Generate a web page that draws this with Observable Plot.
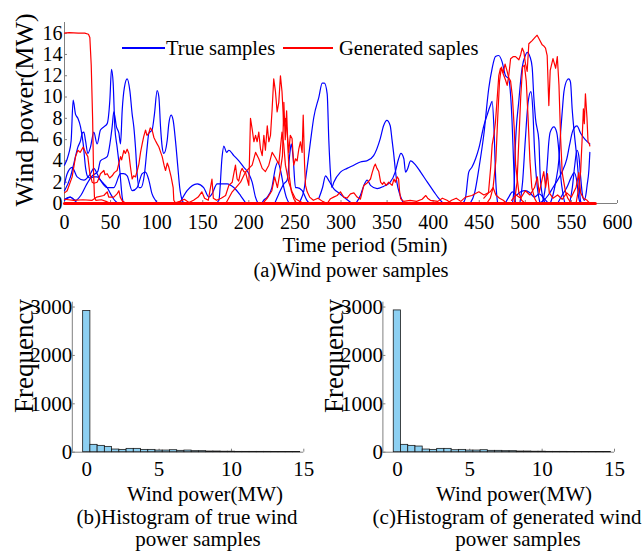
<!DOCTYPE html>
<html><head><meta charset="utf-8">
<script src="https://cdn.jsdelivr.net/npm/d3@7"></script>
<script src="https://cdn.jsdelivr.net/npm/@observablehq/plot@0.6"></script>
<style>
body{margin:0;background:#fff;}
#c{position:relative;width:644px;height:559px;font-family:"Liberation Serif","Times New Roman",serif;color:#000;overflow:hidden;background:#fff;}
.t{position:absolute;white-space:nowrap;line-height:1;transform:translate(-50%,-50%);}
.r{position:absolute;white-space:nowrap;line-height:1;transform:translate(-50%,-50%) rotate(-90deg);}
.p{position:absolute;}
.p svg,.p{overflow:visible;}
.p svg text{font-family:"Liberation Serif","Times New Roman",serif;}
</style></head><body><div id="c"></div>
<script>
// ---------- tick labels ----------
const timeTicks = [0,50,100,150,200,250,300,350,400,450,500,550,600];
const powerTicks = [0,2,4,6,8,10,12,14,16];
const histXTicks = [0,5,10,15];
const histYTicks = [0,1000,2000,3000];

// ---------- true samples (blue) : [time, MW] ----------
const true1 = [[0,3.6],[4.7,4.7],[7.2,5.9],[9.4,9.7],[11.9,8.4],[14.5,8.0],[17.4,7.2],[20.3,5.6],[22.8,3.4],[25.3,2.5],[28,2.4],[31.8,2.5],[35.4,2.5],[39,2.2],[42.7,1.85],[46.3,1.5],[50,0.9],[53.5,0.4],[57,0.1],[60,0]];
const true2 = [[0,1.2],[6.5,2.5],[10,3.7],[14.5,5.3],[17.4,5.9],[19.2,6.6],[21,6.7],[22.8,5.9],[25.3,4.7],[28.2,5.3],[31.8,6.7],[35.4,5.6],[39,6.9],[42.7,7.2],[46.3,7.5],[49.2,9.7],[51,12.6],[52.8,11.3],[54.6,7.2],[57.1,5.3],[60,3.1],[62.6,0.6],[64,0]];
const true3 = [[0,0.4],[6,0.6],[12,0.3],[18,0.8],[24,1.8],[30,2.6],[36,3.0],[39,4],[46.3,4.4],[51.7,7.2],[53.5,8.6],[56.4,7.2],[59,6.6],[60.8,5.6],[62.6,8.75],[65,10.9],[68,11.7],[70.9,10.6],[73.4,8.4],[75.2,7.2],[77,5.3],[78.8,2.8],[80.7,1.5],[83,1.5],[86.8,2.8],[89.7,5.3],[91.5,6.6],[95,6.9],[97.6,8.4],[100.5,10.6],[102.4,10],[104.2,7.2],[106,5.3],[107.8,4.7],[111.4,5.9],[113.2,7.5],[115.7,8.3],[117.9,7.8],[120.4,5.9],[123,3.4],[125,1.5],[127.7,0.3],[130,0]];
const true4 = [[0,1.8],[2.9,2.8],[8.3,3.4],[13.7,2.5],[21,2.2],[28.2,2.8],[31.8,3.3],[35.4,2.8],[39,2.2],[46.3,1.5],[53.5,1.5],[60.8,2.8],[64,2.8],[68,2.6],[73.4,1.2],[78.8,1.5],[84.3,2.8],[87.9,2.95],[91.5,2.2],[95,0.9],[98.7,0.3],[101,0]];
const true5 = [[0,0.3],[6.5,0.6],[12,0.2],[15,0]];
const true6 = [[125,0],[133,1.2],[144,1.85],[151,1.5],[156.6,0.6],[160,0.9],[165.6,1.85],[176.5,1.85],[183.7,1.5],[191,0.75],[197,0]];
const true7 = [[164,0],[167.5,0.3],[171,4.4],[172.9,5.4],[175.8,4.8],[178.3,5.0],[183.7,4.5],[189.2,4.0],[194.6,3.4],[200,2.8],[203.6,2.0],[207.2,0.6],[210,0]];
const true8 = [[214,0],[216,0.3],[220,0.6],[225,1.5],[229,3.4],[231.5,3.9],[234.4,3.1],[238,1.5],[241,0.5],[244,0]];
const true9 = [[228,0],[232.5,0.9],[238,1.85],[241.6,2.2],[244.5,4.7],[246,5.6],[248,4.4],[250.6,1.5],[252.4,1.5],[257.9,1.2],[263,0.3],[266,0]];
const true10 = [[254,0],[256,0.3],[259.7,1.2],[263.3,3.4],[267,5.9],[270.5,8.1],[276,10],[279.6,11.3],[282,11.3],[285,10.3],[286.8,5.9],[288.6,2.8],[290,1.5],[292.2,2],[299.4,2.95],[306.6,3.3],[313.8,3.6],[321,3.9],[328,4.0],[335.4,4.5],[342.6,6.1],[346.2,7.3],[349.8,7.8],[353.4,7.3],[355.2,6.1],[357,4.8],[358.8,3.3],[360.6,2],[364.2,0.75],[368,0]];
const true11 = [[276,0.5],[280,1.5],[283.2,2.6],[286.8,2.15],[292,1.4],[299,0.9],[306,0.4],[312,0]];
const true12 = [[316,0],[321,0.75],[324.8,1.7],[328.4,2.2],[332,1.7],[339.2,1.4],[346,1.6],[353.4,2],[358.8,2.95],[362.5,4.2],[365,4.7],[368.2,4.2],[370,2.95],[372,3.2],[375.5,4.0],[381,3.6],[386.4,2.95],[393.7,2],[400.9,1.1],[406.3,0.45],[411,0]];
const true13 = [[432,0],[435,0.5],[438.6,2.95],[442,3.4],[446,4.2],[449.6,5.2],[455,7.3],[458.5,8.3],[462,9.2],[464,9.6],[466,7],[468,2],[470,0]];
const true14 = [[440,0],[445,1],[450,3.5],[455,6.5],[460.3,10.8],[464,12.7],[467.6,13.8],[471.2,13.9],[474.8,13.3],[478.5,12.0],[482,11.7],[484,10.2],[485.6,7.7],[487.5,3.3],[489.4,0.1],[491,0]];
const true15 = [[486,0],[488,2],[489,5],[493,9.7],[496.6,12.8],[500,13.9],[502,14.2],[505,13.8],[507.4,12.8],[509.2,10],[511,8],[514.7,5.9],[516,2.8],[518,1],[520,0.3],[522,0]];
const true16 = [[494,0],[497,2],[500,6],[503,9.5],[506,10.5],[508,9],[510,5],[513,1.5],[516,0]];
const true17 = [[518,0],[521.9,1.7],[523.7,3.6],[525.5,5.8],[527,6.7],[531,7.2],[534,6.7],[536.5,4.8],[538.3,2.6],[541,0.8],[543,0]];
const true18 = [[527,0],[530,0.8],[532.9,2],[536.5,4.2],[538.3,6.7],[540,8.6],[541.9,10.5],[545.4,11.6],[547.2,11.7],[549,11.4],[550.8,8.9],[553,6.7],[556,4.2],[558,2.2],[560,0.2],[562,0]];
const true19 = [[515,0],[520,0.3],[525,0.8],[530,1.5],[535,2.2],[540,3],[545,4.2],[548,5.5],[551,6.7],[553,7.1],[556,7.3],[560,6.6],[565,6],[570,5.6]];
const true20 = [[548,0],[551,1.5],[553.5,3.5],[556,5.0],[558,4.5],[560,2.5],[562,0.8],[564,0.3],[566,1],[567,1.7],[569,3.2],[570,4.8]];
const true21 = [[478,0],[482,0.6],[486,1.1],[490,0.8],[495,1.1],[500,1.2],[505,1.0],[510,0.6],[515,0.9],[520,0.5],[525,0]];
const true22 = [[535,0],[540,0.8],[545,1.5],[550,2.5],[553,2.9],[556,2],[558,0.5],[560,0]];
const trueSeries = [true1,true2,true3,true4,true5,true6,true7,true8,true9,true10,true11,true12,true13,true14,true15,true16,true17,true18,true19,true20,true21,true22];

// ---------- generated samples (red) : [time, MW] ----------
const gen0 = [[0,0],[576,0]];
const gen1 = [[0,16.0],[5,16.05],[15,16.0],[22,16.0],[26,15.9],[27.5,15.6],[29,13],[30.5,8],[31.5,3],[32.5,0.6],[34,0.3],[40,0.35],[45,0.2],[50,0]];
const gen2 = [[0,1.0],[2.9,1.2],[8.3,2.5],[12,4.4],[14.5,5.0],[17,4.8],[20.3,5.3],[22.8,4.8],[25.3,4.4],[27.5,2.8],[30,2.0],[32,1.9],[35.4,2],[37,2.3],[39,2.8],[42.7,3.1],[44,2.7],[46.3,2.8],[49,2.4],[51.7,2.6],[54,2.9],[57.1,3.1],[59,3.8],[60.8,4.4],[62,4.1],[64.4,5.0],[66,4.7],[68,5.1],[69.8,4.7],[71.6,3.4],[73.4,2.3],[75,2.6],[77,2.5],[79,3.1],[80.7,3.7],[82.5,4.8],[84.3,5.6],[86,6.3],[87.9,6.9],[89.5,6.4],[91.5,6.6],[93,7.1],[95.1,6.9],[97,6.2],[98.7,5.9],[100.5,5.6],[102.4,5.3],[104,4.9],[106,4.4],[108,3.6],[109.6,3.1],[111.5,3.8],[113.2,3.4],[115.7,2.5],[117.9,1.5],[118.6,0.3],[120,0.1],[124,0]];
const gen3 = [[0,0.4],[10,0.3],[20,0.35],[30,0.3],[35,0.6],[42.7,0.75],[46.3,1.1],[48,0.6],[53.5,0.6],[57,0.9],[59,1.2],[60.5,0.6],[63,0.2],[68,0]];
const gen4 = [[118,0],[125,0.2],[130,0.4],[135,0.1],[140,0.3],[145,0.6],[149,1.1],[152,0.5],[156,0.3],[160,2.3],[161.5,0.5],[165,0.3],[170,0.5],[174.8,0.75],[178.3,1.7],[182,2],[183.7,2.8],[185.5,3.6],[187.3,2.3],[189,2.1],[191,2.95],[192.7,3.3],[194.5,3.0],[196.4,2.95],[198.2,2.3],[200,1.7],[201.8,8.0],[203.6,7.0],[205.5,5.8],[207.3,6.4],[209,5.8],[210.8,6.7],[212.7,5.1],[214.5,4.5],[216.3,6.4],[218,5.0],[220,7.3],[221.7,5.8],[223.5,6.4],[225.3,8.9],[227,11.7],[228.9,10.5],[230.7,8.6],[232.5,9.5],[234.3,12.0],[236,10.5],[237.9,7.3],[239.7,8.0],[241.5,6.7],[243.3,4.8],[245,6.4],[246.9,6.1],[248.7,3.6],[250.6,4.2],[252.4,4.0],[254.2,5.1],[256,5.8],[257.8,4.8],[259,8.3],[260.5,3.6],[261.5,1.7],[263.3,1.1],[266,0.6],[270,0.3],[275,0.5],[280,0.2],[285,0]];
const gen5 = [[175,0],[182,1.1],[186,1.5],[191,2.0],[196.4,2.95],[200,3.3],[203.6,3.6],[207.3,4.8],[210.8,4.2],[214.5,3.3],[218,3.0],[221.7,3.6],[225.3,4.8],[228.9,4.3],[232.5,3.7],[236,6.7],[237.9,5.5],[239.7,3.6],[243.3,2],[246.9,1.1],[250.6,0.45],[255,0.2],[260,0]];
const gen6 = [[215,0],[220,0.5],[225,1.2],[228,2.5],[231,1.5],[234,3.0],[236.5,4.5],[238,9.5],[239.5,6],[241,8.7],[242.5,5],[244,2.5],[246,1.2],[249,0.4],[252,0]];
const gen7 = [[285,0],[288.6,0.45],[292,0.6],[295.8,0.75],[299.4,1.1],[303,0.6],[306.6,0.5],[310.3,0.9],[314,1.0],[317.5,0.6],[321,0.4],[324.8,1.7],[328,1.9],[332,2.3],[334,2.95],[336,3.5],[337.3,3.7],[339,3.3],[341,3.0],[343,2],[345,1.8],[346.6,2],[349,1.7],[351.8,2],[355.5,1.7],[357.5,2.3],[359,2.0],[361,2.5],[362.5,2.3],[363.5,1.2],[364.7,0.45],[368,0.2],[375,0.3],[382,0.2],[388,0.4],[392,0.75],[394,0.5],[397,0.3],[405,0.2],[410,0.5],[415,0.3],[420,0]];
const gen8 = [[415,0],[420,0.3],[425,0.5],[430,0.2],[435,0.6],[442,0.75],[449.6,1.1],[455,0.8],[462,1.1],[465,1.5],[468,0.8],[472,0.5],[476,0.3],[480,0]];
const gen9 = [[455,0.5],[460,1.0],[462.5,3.5],[464,5.5],[466,6.5],[467.6,7.65],[469.4,9.8],[471.2,12.0],[473,12.7],[475,12.4],[478.5,11.6],[480.3,11.1],[482,12],[484,13.6],[487,13.8],[489.4,13.8],[493,13.5],[495,14.0],[496.6,14.6],[498.5,14.2],[500,13.2],[502,12.4],[503.8,15.0],[507.4,15.3],[511,15.65],[512.8,15.8],[514.7,15.5],[518.3,14.9],[520,14.8],[521.9,14.6],[523.7,13.9],[525.5,9.2],[527,12.5],[530,13.6],[532.9,12.7],[534.7,13.8],[536.5,11.1],[538.3,6.1],[540,2.9],[543.6,1.1],[546,0.5],[550,0]];
const gen10 = [[458,0],[462,0.5],[465,1.5],[468,4],[470,8],[472,11.5],[474,12.8],[476,12.3],[478,13.1],[480,12.5],[482,11.8],[484,11.5],[486,10],[488,7],[489.5,3.6],[491,2.5],[493,1],[496,0.3],[500,0]];
const gen11 = [[488,0],[491,2],[493,6],[495,10],[497,12.8],[499,13.0],[501,11.5],[503,8],[505,4],[507,1.5],[510,0.5],[513,0]];
const gen12 = [[485,0.3],[490,0.8],[495,0.5],[500,1.2],[505,0.8],[510,1.5],[513,2.5],[515,1.0],[518,2.2],[520,3.0],[522,1.5],[524,2.8],[526,1.0],[530,0.5],[535,0.8],[540,0.4],[545,1.0],[550,0.6],[555,1.5],[558,2.9],[560,1.0],[563,0.5],[567,0.3],[570,0]];
const gen13 = [[555,0],[558,1.5],[560,3],[561.5,5.8],[563,8.9],[564,7.5],[565.2,10.3],[566.9,8.0],[568,5.8],[569.4,5.6],[570,5.4]];
const genSeries = [gen1,gen2,gen3,gen4,gen5,gen6,gen7,gen8,gen9,gen10,gen11,gen12,gen13];

// ---------- histograms ----------
const binCenters = [0,0.5,1,1.5,2,2.5,3,3.5,4,4.5,5,5.5,6,6.5,7,7.5,8,8.5,9,9.5,10,10.5,11,11.5,12,12.5,13,13.5,14,14.5];
const trueCounts = [2920,152,131,110,55,48,69,69,48,48,34,34,41,28,34,21,21,14,14,10,10,7,7,7,7,7,5,5,5,3];
const genCounts  = [2930,152,131,117,55,48,69,69,41,48,34,34,41,28,28,21,21,14,14,10,10,7,7,7,5,5,5,3,3,3];

// ---------- build ----------
const FONT = "Liberation Serif";
const AXIS = "#808080";
const fmt = d => String(d);
const c = document.getElementById("c");
function place(el, left, topPx){ const d=document.createElement("div"); d.className="p"; d.style.left=left+"px"; d.style.top=topPx+"px"; d.appendChild(el); c.appendChild(d); }
function label(txt, x, y, size, rot){ const d=document.createElement("div"); d.className=rot?"r":"t"; d.style.left=x+"px"; d.style.top=y+"px"; d.style.fontSize=size+"px"; d.textContent=txt; c.appendChild(d); }

const toRows = (list) => list.flatMap((s,i)=> s.map(([t,v])=>({t, v, id:i})));
const trueRows = toRows(trueSeries);
const genRows = toRows(genSeries);
const zeroRows = toRows([gen0]);

const topChart = Plot.plot({
  width:644, height:235, marginLeft:64, marginRight:27, marginTop:22, marginBottom:32,
  x:{domain:[0,600]}, y:{domain:[0,17]},
  style:{fontSize:"20px", color:"#000", background:"transparent", overflow:"visible"},
  marks:[
    Plot.ruleX([0], {stroke:AXIS}),
    Plot.ruleY([0], {stroke:AXIS}),
    Plot.axisX(timeTicks, {tickSize:0, tickPadding:11, fontSize:20, fontFamily:FONT, fill:"#000", label:null, tickFormat:fmt}),
    Plot.axisX(timeTicks, {tickSize:-3, text:null, stroke:AXIS, label:null}),
    Plot.axisY(powerTicks, {tickSize:0, tickPadding:2, fontSize:20, fontFamily:FONT, fill:"#000", label:null, tickFormat:fmt}),
    Plot.axisY(powerTicks, {tickSize:-3, text:null, stroke:AXIS, label:null}),
    Plot.line(trueRows, {x:"t", y:"v", z:"id", stroke:"#0000ff", strokeWidth:1.2, curve:"monotone-x"}),
    Plot.line(genRows, {x:"t", y:"v", z:"id", stroke:"#ff0000", strokeWidth:1.2}),
    Plot.line(zeroRows, {x:"t", y:"v", z:"id", stroke:"#ff0000", strokeWidth:3})
  ]
});
place(topChart, 0, 0);

function hist(counts, width, mLeft, mRight){
  const rows = binCenters.map((b,i)=>({x1:b-0.25, x2:b+0.25, n:counts[i]}));
  return Plot.plot({
    width, height:195, marginLeft:mLeft, marginRight:mRight, marginTop:11.7, marginBottom:33.3,
    x:{domain:[-1,15]}, y:{domain:[0,3100]},
    style:{fontSize:"21px", color:"#000", background:"transparent", overflow:"visible"},
    marks:[
      Plot.ruleX([-1], {stroke:AXIS}),
      Plot.ruleY([0], {stroke:AXIS}),
      Plot.axisX(histXTicks, {tickSize:0, tickPadding:9, fontSize:21, fontFamily:FONT, fill:"#000", label:null, tickFormat:fmt}),
      Plot.axisX(histXTicks, {tickSize:-3, text:null, stroke:AXIS, label:null}),
      Plot.axisY(histYTicks, {tickSize:0, tickPadding:0, fontSize:21, fontFamily:FONT, fill:"#000", label:null, tickFormat:fmt}),
      Plot.axisY(histYTicks, {tickSize:-3, text:null, stroke:AXIS, label:null}),
      Plot.rect(rows, {x1:"x1", x2:"x2", y1:0, y2:"n", fill:"#8dd0f2", stroke:"#1a1a1a", strokeWidth:0.8})
    ]
  });
}
place(hist(trueCounts, 320, 71.8, 16.7), 0, 290);
place(hist(genCounts, 324, 62.4, 30), 320, 290);

// legend
function legendItem(color, x1, x2, y, txt, tx, size){
  const l=document.createElement("div"); l.className="p"; l.style.left=x1+"px"; l.style.top=(y-0.6)+"px"; l.style.width=(x2-x1)+"px"; l.style.height="1.2px"; l.style.background=color; c.appendChild(l);
  const t=document.createElement("div"); t.className="p"; t.style.left=tx+"px"; t.style.top=y+"px"; t.style.transform="translateY(-50%)"; t.style.fontSize=size+"px"; t.style.lineHeight="1"; t.style.whiteSpace="nowrap"; t.textContent=txt; c.appendChild(t);
}
legendItem("#0000ff", 122, 165, 48, "True samples", 166, 20.5);
legendItem("#ff0000", 283, 333, 48, "Generated saples", 339, 20.5);

// titles and captions
label("Wind power(MW)", 25, 110, 26, true);
label("Time period (5min)", 365, 245, 21);
label("(a)Wind power samples", 351, 270, 20.5);
label("Frequency", 24, 356, 27, true);
label("Frequency", 334, 356, 27, true);
label("Wind power(MW)", 205, 494, 21);
label("Wind power(MW)", 514, 494, 21);
label("(b)Histogram of true wind", 187, 517, 21);
label("power samples", 198, 539, 21);
label("(c)Histogram of generated wind", 507, 517, 21);
label("power samples", 518, 539, 21);
</script></body></html>
